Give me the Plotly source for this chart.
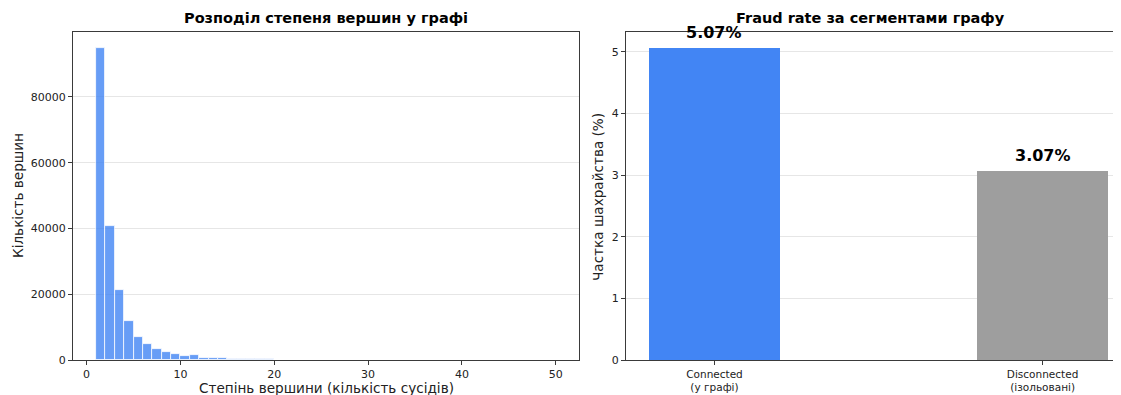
import plotly.graph_objects as go

# ---------------- data ----------------
degree_bin_left = list(range(1, 50))
degree_counts = [95000, 40800, 21300, 11900, 7100, 4850, 3300, 2350, 1750, 1250,
                 1400, 700, 650, 500, 430, 340, 290, 200, 160, 130,
                 110, 90, 75, 60, 50, 40, 35, 30, 25, 22,
                 20, 18, 15, 13, 12, 10, 9, 8, 7, 6,
                 6, 5, 5, 4, 4, 3, 3, 3, 30]

segments = ["Connected<br>(у графі)", "Disconnected<br>(ізольовані)"]
fraud_rate = [5.07, 3.07]
seg_colors = ["#4285F4", "#9E9E9E"]

title_left = "Розподіл степеня вершин у графі"
title_right = "Fraud rate за сегментами графу"
xlabel_left = "Степінь вершини (кількість сусідів)"
ylabel_left = "Кількість вершин"
ylabel_right = "Частка шахрайства (%)"

# ---------------- layout helpers ----------------
# the page body has an 8px margin, so the figure is drawn 8px right/down
OFF = 8
W, H = 1121 - OFF, 395 - OFF
ML, MR, MT, MB = 73 - OFF, 0, 32 - OFF, 35
PW, PH = W - ML - MR, H - MT - MB


def px(x):  # screen pixel -> paper fraction
    return (x - OFF - ML) / PW


def py(y):
    return (H - MB - (y - OFF)) / PH


FONT = "DejaVu Sans"
AX = "#3a3a3a"
GRID = "#e6e6e6"

fig = go.Figure()

fig.add_trace(go.Bar(
    x=degree_bin_left, y=degree_counts, offset=0, width=1,
    marker=dict(color="#4285F4", opacity=0.8, line=dict(color="white", width=0.8)),
    xaxis="x", yaxis="y", showlegend=False,
))

cat_x = list(range(len(segments)))
fig.add_trace(go.Bar(
    x=cat_x, y=fraud_rate, width=0.4,
    marker=dict(color=seg_colors, line=dict(width=0)),
    xaxis="x2", yaxis="y2", showlegend=False,
))

axis_common = dict(
    showline=True, linecolor=AX, linewidth=1,
    ticks="outside", ticklen=4, tickcolor=AX, tickwidth=1,
    tickfont=dict(family=FONT, size=11, color="#222"),
    zeroline=False,
)

fig.update_layout(
    width=W, height=H,
    margin=dict(l=ML, r=MR, t=MT, b=MB),
    paper_bgcolor="white", plot_bgcolor="white",
    bargap=0,
    font=dict(family=FONT, color="#222"),
    xaxis=dict(domain=[0, px(578.7)], range=[-1.45, 52.45],
               tickvals=[0, 10, 20, 30, 40, 50], mirror=True, showgrid=False,
               anchor="y", **axis_common),
    yaxis=dict(domain=[0, 1], range=[0, 99750], tickformat="d",
               tickvals=[0, 20000, 40000, 60000, 80000], mirror=True,
               showgrid=True, gridcolor=GRID, gridwidth=1,
               anchor="x", **axis_common),
    xaxis2=dict(domain=[px(625.9), 1], range=[-0.27, 1.239],
                tickvals=cat_x, ticktext=segments, mirror=True, showgrid=False,
                anchor="y2", **axis_common),
    yaxis2=dict(domain=[0, 1], range=[0, 5.3235],
                tickvals=[0, 1, 2, 3, 4, 5], showgrid=True, gridcolor=GRID,
                gridwidth=1, anchor="x2", **axis_common),
)
fig.update_xaxes(tickfont=dict(size=10.5), selector=dict(anchor="y2"))

LBL = 13.6
ann = []
ann.append(dict(text=title_left, x=px(326), y=py(18), xref="paper", yref="paper",
                showarrow=False, font=dict(family=FONT, size=14.5, color="black", weight="bold"),
                xanchor="center", yanchor="middle"))
ann.append(dict(text=title_right, x=px(870), y=py(18), xref="paper", yref="paper",
                showarrow=False, font=dict(family=FONT, size=14.5, color="black", weight="bold"),
                xanchor="center", yanchor="middle"))
ann.append(dict(text=xlabel_left, x=px(326), y=py(388), xref="paper", yref="paper",
                showarrow=False, font=dict(family=FONT, size=LBL, color="#222"),
                xanchor="center", yanchor="middle"))
ann.append(dict(text=ylabel_left, x=px(18), y=py(196), xref="paper", yref="paper",
                showarrow=False, textangle=-90, font=dict(family=FONT, size=LBL, color="#222"),
                xanchor="center", yanchor="middle"))
ann.append(dict(text=ylabel_right, x=px(598), y=py(197), xref="paper", yref="paper",
                showarrow=False, textangle=-90, font=dict(family=FONT, size=LBL, color="#222"),
                xanchor="center", yanchor="middle"))
for i, v in enumerate(fraud_rate):
    ann.append(dict(text=f"{v:.2f}%", x=cat_x[i], y=v, xref="x2", yref="y2",
                    showarrow=False, yshift=15,
                    font=dict(family=FONT, size=16, color="black", weight="bold"),
                    xanchor="center", yanchor="middle"))
fig.update_layout(annotations=ann)

fig.write_html("out.html")
